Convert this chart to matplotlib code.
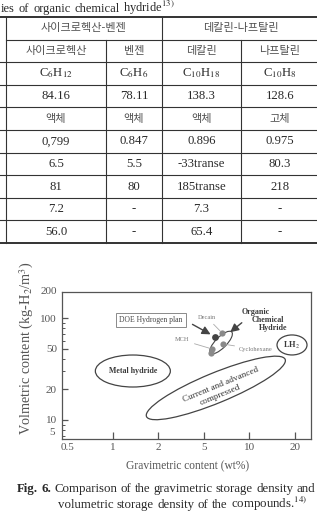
import numpy as np
import matplotlib
matplotlib.use("Agg")
import matplotlib.pyplot as plt
from matplotlib.patches import Ellipse
from matplotlib import transforms
from matplotlib.ticker import FixedLocator, FixedFormatter, LogLocator, NullFormatter, NullLocator

# ---------------- data ----------------
title_words = ["ies", "of", "organic", "chemical", "hydride$^{13)}$"]
group_headers = ["사이크로헥산-벤젠", "데칼린-나프탈린"]
compounds = ["사이크로헥산", "벤젠", "데칼린", "나프탈린"]
formulas = [r"C$_6$H$_{12}$", r"C$_6$H$_6$", r"C$_{10}$H$_{18}$", r"C$_{10}$H$_8$"]
mol_weight = ["84.16", "78.11", "138.3", "128.6"]
state = ["액체", "액체", "액체", "고체"]
density = ["0,799", "0.847", "0.896", "0.975"]
melting = ["6.5", "5.5", "-33transe", "80.3"]
boiling = ["81", "80", "185transe", "218"]
h2_wt = ["7.2", "-", "7.3", "-"]
h2_vol = ["56.0", "-", "65.4", "-"]

x_ticks = [0.5, 1, 2, 5, 10, 20]
x_ticklabels = ["0.5", "1", "2", "5", "10", "20"]
y_ticks = [10, 20, 50, 100]
y_ticklabels = ["10", "20", "50", "100"]
y_corner_labels = ["5", "200"]

# compound points (wt%, kg-H2/m3)
pt_names = ["DOE", "Decalin", "Cyclohexane", "MCH", "MCH2"]
pt_x = [5.93, 6.60, 6.70, 5.66, 5.58]
pt_y = [65.1, 71.3, 55.6, 49.7, 45.4]

# regions (centre in data units)
reg_metal = (1.36, 30.2)
reg_lh2 = (19.1, 54.4)
reg_comp = (6.0, 20.6)
reg_och = (6.5, 57.5)

caption1 = ["Comparison", "of", "the", "gravimetric", "storage", "density", "and"]
caption2 = ["volumetric", "storage", "density", "of", "the", "compounds.$^{14)}$"]

# ---------------- style ----------------
plt.rcParams["font.family"] = ["Liberation Serif", "Noto Sans CJK KR", "DejaVu Sans"]
plt.rcParams["mathtext.fontset"] = "stix"
W, H = 317, 517
fig = plt.figure(figsize=(W / 100, H / 100), dpi=100)
fig.patch.set_facecolor("white")

ov = fig.add_axes([0, 0, 1, 1])
ov.set_xlim(0, W)
ov.set_ylim(H, 0)
ov.axis("off")

renderer = fig.canvas.get_renderer()


def justify(words, x0, x1, y, props_list):
    texts = [ov.text(0, y, w, ha="left", va="baseline", **p) for w, p in zip(words, props_list)]
    widths = [t.get_window_extent(renderer).width for t in texts]
    gap = (x1 - x0 - sum(widths)) / max(len(texts) - 1, 1)
    x = x0
    for t, w in zip(texts, widths):
        t.set_x(x)
        x += w + gap


# ---------------- title & table ----------------
txt_col = "#2a2a2a"
kor_col = "#505050"
justify(title_words, 1, 175, 12, [dict(fontsize=9, color=txt_col)] * len(title_words))

col_edges = [6, 106, 162, 241, 319]
row_top, row_h, nrows = 17, 22.6, 10
row_edges = [row_top + row_h * k for k in range(nrows + 1)]
lc = "#333333"
ov.plot([0, W], [row_edges[0]] * 2, color=lc, lw=1.4)
ov.plot([col_edges[0], W], [row_edges[1]] * 2, color=lc, lw=0.8)
for k in range(2, nrows):
    ov.plot([0, W], [row_edges[k]] * 2, color=lc, lw=0.8)
ov.plot([0, W], [row_edges[-1]] * 2, color=lc, lw=1.4)
for x in (col_edges[0], col_edges[2]):
    ov.plot([x, x], [row_edges[0], row_edges[-1]], color=lc, lw=0.8)
for x in (col_edges[1], col_edges[3]):
    ov.plot([x, x], [row_edges[1], row_edges[-1]], color=lc, lw=0.8)

centers = [(col_edges[i] + col_edges[i + 1]) / 2 for i in range(4)]
rowc = [(row_edges[k] + row_edges[k + 1]) / 2 for k in range(nrows)]
kprops = dict(fontsize=8, color=kor_col, family=["Noto Sans CJK KR", "DejaVu Sans"], ha="center", va="center")
nprops = dict(fontsize=9.2, color=txt_col, ha="center", va="center")
ov.text((col_edges[0] + col_edges[2]) / 2, rowc[0], group_headers[0], **kprops)
ov.text((col_edges[2] + col_edges[4]) / 2, rowc[0], group_headers[1], **kprops)
for i in range(4):
    ov.text(centers[i], rowc[1], compounds[i], **kprops)
    ov.text(centers[i], rowc[2], formulas[i], **nprops)
    ov.text(centers[i], rowc[3], mol_weight[i], **nprops)
    ov.text(centers[i], rowc[4], state[i], **kprops)
    for r, arr in zip(range(5, 10), [density, melting, boiling, h2_wt, h2_vol]):
        ov.text(centers[i], rowc[r], arr[i], **nprops)

# ---------------- chart ----------------
lt = np.log10(x_ticks)
idx = np.arange(len(x_ticks), dtype=float)


def fwd(v):
    l = np.log10(np.maximum(np.asarray(v, dtype=float), 1e-12))
    return (np.interp(l, lt, idx)
            + (l < lt[0]) * (l - lt[0]) / (lt[1] - lt[0])
            + (l > lt[-1]) * (l - lt[-1]) / (lt[-1] - lt[-2]))


def inv(u):
    u = np.asarray(u, dtype=float)
    l = (np.interp(u, idx, lt)
         + (u < 0) * u * (lt[1] - lt[0])
         + (u > idx[-1]) * (u - idx[-1]) * (lt[-1] - lt[-2]))
    return 10 ** l


ax = fig.add_axes([62 / W, 78 / H, 249 / W, 147 / H])
ax.set_facecolor("none")
ax.set_xscale("function", functions=(fwd, inv))
ax.set_yscale("log")
ax.set_xlim(float(inv(-0.11)), float(inv(5.35)))
ax.set_ylim(6.5, 180)
ax.xaxis.set_major_locator(FixedLocator(x_ticks))
ax.xaxis.set_major_formatter(FixedFormatter(x_ticklabels))
ax.xaxis.set_minor_locator(NullLocator())
ax.yaxis.set_major_locator(FixedLocator(y_ticks))
ax.yaxis.set_major_formatter(FixedFormatter(y_ticklabels))
ax.yaxis.set_minor_locator(LogLocator(base=10, subs=np.arange(2, 10)))
ax.yaxis.set_minor_formatter(NullFormatter())
axc = "#555555"
for s in ax.spines.values():
    s.set_color(axc)
    s.set_linewidth(0.9)
ax.tick_params(axis="both", which="both", direction="in", colors=axc, labelcolor=axc, labelsize=8)
ax.tick_params(axis="x", which="major", length=5, width=0.9, pad=3)
ax.tick_params(axis="y", which="major", length=4.5, width=0.9, pad=3.6)
ax.tick_params(axis="y", which="minor", length=2.5, width=0.7)
ax.xaxis.get_major_ticks()[0].tick1line.set_visible(False)
ax.text(-0.02, 1.0, y_corner_labels[1], transform=ax.transAxes, ha="right", va="center", fontsize=8, color=axc)
ax.text(-0.038, 0.044, y_corner_labels[0], transform=ax.transAxes, ha="center", va="center", fontsize=8, color=axc)

ov.text(188, 466, "Gravimetric content (wt%)", ha="center", va="center", fontsize=8.3, color=axc)
ov.text(27, 348, r"Volmetric content (kg-H$_2$/m$^3$)", ha="center", va="center", rotation=90,
        fontsize=10.3, color=axc)


def px_ellipse(center, w, h, angle, lw=0.9):
    tr = fig.dpi_scale_trans + transforms.ScaledTranslation(center[0], center[1], ax.transData)
    e = Ellipse((0, 0), w / 100, h / 100, angle=angle, fill=False, edgecolor="#444444", lw=lw, transform=tr)
    ax.add_patch(e)


px_ellipse(reg_metal, 75, 32, 0)
px_ellipse(reg_lh2, 30, 20, 0)
px_ellipse(reg_comp, 150, 30, 22.4)
px_ellipse(reg_och, 30, 11, 45, lw=0.8)

# points
ax.scatter(pt_x[:1], pt_y[:1], s=24, color="#444444", zorder=5, linewidths=0)
ax.scatter(pt_x[1:], pt_y[1:], s=20, color="#8a8a8a", zorder=5, linewidths=0)

# region labels
ax.text(*reg_metal, "Metal hydride", ha="center", va="center", fontsize=5.7, fontweight="bold", color="#3a3a3a")
ax.text(*reg_lh2, "LH$_2$", ha="center", va="center", fontsize=6, fontweight="bold", color="#3a3a3a")
ax.text(6.49, 22.0, "Current and advanced", ha="center", va="center", rotation=22.4, rotation_mode="anchor",
        fontsize=6.6, color="#333333")
ax.text(6.40, 17.6, "compressed", ha="center", va="center", rotation=22.4, rotation_mode="anchor",
        fontsize=6.6, color="#333333")

# DOE box & arrow
ax.text(1.79, 95.6, "DOE Hydrogen plan", ha="center", va="center", fontsize=5.5, color="#444444",
        bbox=dict(boxstyle="square,pad=0.45", fc="white", ec="#8a8a8a", lw=0.7))
ax.annotate("", xy=(pt_x[0] * 0.97, pt_y[0] * 1.03), xytext=(3.79, 89.3),
            arrowprops=dict(arrowstyle="-|>,head_length=0.5,head_width=0.25", color="#444444", lw=1.0))

# Organic Chemical Hydride
och_col = "#3a3a3a"
ax.text(11.06, 114.5, "Organic", ha="center", va="center", fontsize=5.8, fontweight="bold", color=och_col)
ax.text(13.3, 95.6, "Chemical", ha="center", va="center", fontsize=5.8, fontweight="bold", color=och_col)
ax.text(14.3, 80.5, "Hydride", ha="center", va="center", fontsize=5.8, fontweight="bold", color=och_col)
ax.annotate("", xy=(7.22, 69.7), xytext=(9.2, 93.5),
            arrowprops=dict(arrowstyle="-|>,head_length=0.5,head_width=0.25", color="#444444", lw=1.0))

# small compound labels
small_col = "#777777"
ax.annotate("Decain", xy=(pt_x[1], pt_y[1]), xytext=(5.21, 102.3), ha="center", va="center",
            fontsize=4.6, color=small_col,
            arrowprops=dict(arrowstyle="-", color="#aaaaaa", lw=0.6, shrinkA=2, shrinkB=2))
ax.annotate("MCH", xy=(pt_x[3], pt_y[3]), xytext=(3.21, 60.9), ha="center", va="center",
            fontsize=4.6, color=small_col,
            arrowprops=dict(arrowstyle="-", color="#aaaaaa", lw=0.6, shrinkA=2, shrinkB=2))
ax.annotate("Cyclohexane", xy=(pt_x[2], pt_y[2]), xytext=(10.97, 49.3), ha="center", va="center",
            fontsize=4.6, color=small_col,
            arrowprops=dict(arrowstyle="-", color="#aaaaaa", lw=0.6, shrinkA=1, shrinkB=2))

# ---------------- caption ----------------
cap_props = dict(fontsize=9.3, color=txt_col)
justify(["Fig.", "6."] + caption1, 17, 315, 492,
        [dict(fontsize=9.3, color=txt_col, fontweight="bold")] * 2 + [cap_props] * len(caption1))
justify(caption2, 58, 307, 508, [cap_props] * len(caption2))

fig.savefig("out.png", dpi=100, facecolor="white")
